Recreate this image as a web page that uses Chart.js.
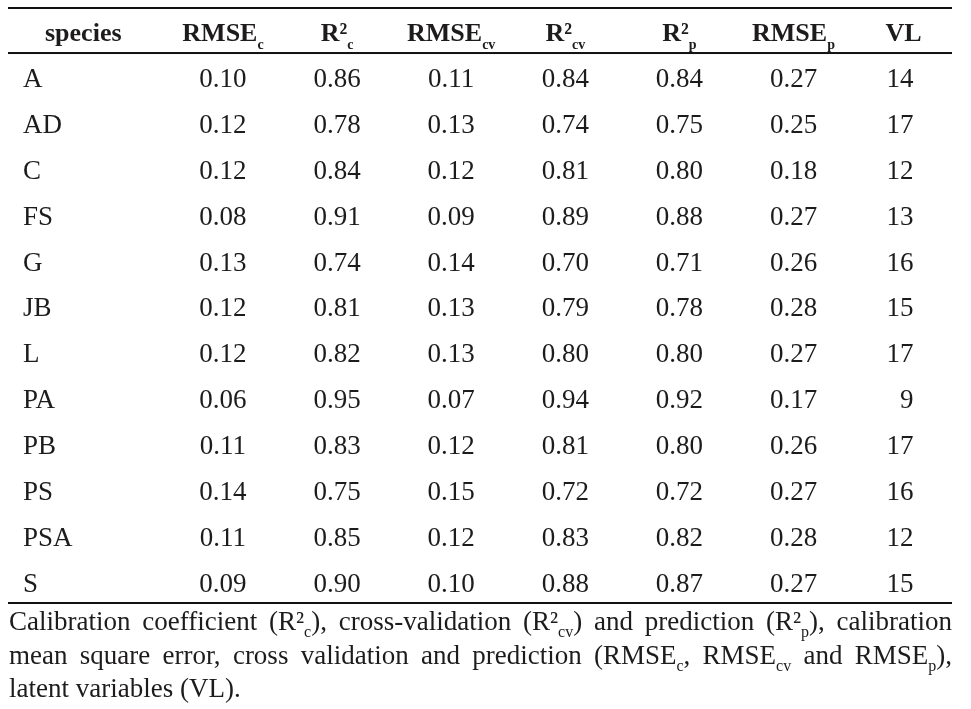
<!DOCTYPE html>
<html>
<head>
<meta charset="utf-8">
<script src="https://cdn.jsdelivr.net/npm/chart.js@4/dist/chart.umd.min.js"></script>
<style>
  html, body { margin: 0; padding: 0; background: #fff; }
  canvas { display: block; }
</style>
</head>
<body>
<canvas id="tbl" width="971" height="709"></canvas>
<script>
// Table values, one array per column
const species = ["A", "AD", "C", "FS", "G", "JB", "L", "PA", "PB", "PS", "PSA", "S"];
const rmseC  = [0.10, 0.12, 0.12, 0.08, 0.13, 0.12, 0.12, 0.06, 0.11, 0.14, 0.11, 0.09];
const r2C    = [0.86, 0.78, 0.84, 0.91, 0.74, 0.81, 0.82, 0.95, 0.83, 0.75, 0.85, 0.90];
const rmseCV = [0.11, 0.13, 0.12, 0.09, 0.14, 0.13, 0.13, 0.07, 0.12, 0.15, 0.12, 0.10];
const r2CV   = [0.84, 0.74, 0.81, 0.89, 0.70, 0.79, 0.80, 0.94, 0.81, 0.72, 0.83, 0.88];
const r2P    = [0.84, 0.75, 0.80, 0.88, 0.71, 0.78, 0.80, 0.92, 0.80, 0.72, 0.82, 0.87];
const rmseP  = [0.27, 0.25, 0.18, 0.27, 0.26, 0.28, 0.27, 0.17, 0.26, 0.27, 0.28, 0.27];
const vl     = [14, 17, 12, 13, 16, 15, 17, 9, 17, 16, 12, 15];

// column headers, "_{..}" marks a subscript
const headers = ["RMSE_{c}", "R²_{c}", "RMSE_{cv}", "R²_{cv}", "R²_{p}", "RMSE_{p}", "VL"];
const caption = [
  "Calibration coefficient (R²_{c}), cross-validation (R²_{cv}) and prediction (R²_{p}), calibration",
  "mean square error, cross validation and prediction (RMSE_{c}, RMSE_{cv} and RMSE_{p}),",
  "latent variables (VL)."
];

const columns = [rmseC, r2C, rmseCV, r2CV, r2P, rmseP, vl];
const ink = "#1d1b1c";
const serif = '"Liberation Serif", "Times New Roman", serif';

// split "R²_{cv}" into runs
function runs(str) {
  const out = [];
  const re = /_\{([^}]*)\}/g;
  let last = 0, m;
  while ((m = re.exec(str))) {
    if (m.index > last) out.push({ t: str.slice(last, m.index), sub: false });
    out.push({ t: m[1], sub: true });
    last = re.lastIndex;
  }
  if (last < str.length) out.push({ t: str.slice(last), sub: false });
  return out;
}

function runsWidth(ctx, rs, main, small) {
  let w = 0;
  rs.forEach(r => { ctx.font = r.sub ? small : main; w += ctx.measureText(r.t).width; });
  return w;
}

function drawRuns(ctx, rs, x, base, main, small, drop) {
  rs.forEach(r => {
    ctx.font = r.sub ? small : main;
    ctx.fillText(r.t, x, r.sub ? base + drop : base);
    x += ctx.measureText(r.t).width;
  });
}

const tablePlugin = {
  id: "tableText",
  afterDatasetsDraw(chart) {
    const { ctx, chartArea: a, scales: { x, y } } = chart;
    ctx.save();
    ctx.fillStyle = ink;
    ctx.textBaseline = "alphabetic";
    ctx.textAlign = "left";

    // rules
    ctx.fillStyle = "#111";
    ctx.fillRect(a.left, a.top - 1, a.right - a.left, 2);
    ctx.fillRect(a.left, y.getPixelForValue(-0.74) - 1, a.right - a.left, 2);
    ctx.fillRect(a.left, a.bottom - 1, a.right - a.left, 2);
    ctx.fillStyle = ink;

    // header row
    const hMain = "bold 26px " + serif, hSmall = "bold 14px " + serif;
    const hy = y.getPixelForValue(-1);
    ctx.font = hMain;
    ctx.fillText("species", a.left + 37, hy);
    headers.forEach((h, i) => {
      const rs = runs(h);
      const w = runsWidth(ctx, rs, hMain, hSmall);
      let cx = x.getPixelForValue(i + 1);
      if (i === headers.length - 1) cx -= 4;
      drawRuns(ctx, rs, cx - w / 2, hy, hMain, hSmall, 8);
    });

    // body cells sit on the dataset points
    ctx.font = "27px " + serif;
    species.forEach((s, r) => ctx.fillText(s, a.left + 15, y.getPixelForValue(r)));
    chart.data.datasets.forEach((ds, di) => {
      const meta = chart.getDatasetMeta(di);
      meta.data.forEach((pt, r) => {
        const v = ds.data[r].v;
        if (di === columns.length - 1) {
          ctx.textAlign = "right";
          ctx.fillText(String(v), pt.x + 6, pt.y);
        } else {
          ctx.textAlign = "center";
          ctx.fillText(v.toFixed(2), pt.x, pt.y);
        }
      });
    });

    // caption, first two lines justified
    ctx.textAlign = "left";
    const cMain = "27px " + serif, cSmall = "16px " + serif;
    const left = a.left + 1, right = a.right;
    caption.forEach((line, li) => {
      const base = a.bottom + 27 + li * 33.5;
      const words = line.split(" ").map(runs);
      const widths = words.map(w => runsWidth(ctx, w, cMain, cSmall));
      ctx.font = cMain;
      let gap = ctx.measureText(" ").width;
      if (li < caption.length - 1) {
        const sum = widths.reduce((p, c) => p + c, 0);
        gap = (right - left - sum) / (words.length - 1);
      }
      let cx = left;
      words.forEach((w, i) => {
        drawRuns(ctx, w, cx, base, cMain, cSmall, 7);
        cx += widths[i] + gap;
      });
    });
    ctx.restore();
  }
};

const datasets = columns.map((col, ci) => ({
  label: headers[ci],
  data: col.map((v, r) => ({ x: ci + 1, y: r, v: v })),
  pointRadius: 0,
  pointHoverRadius: 0,
  showLine: false
}));

new Chart(document.getElementById("tbl"), {
  type: "scatter",
  data: { datasets: datasets },
  options: {
    responsive: false,
    animation: false,
    devicePixelRatio: 1,
    events: [],
    layout: { padding: { left: 8, right: 19, top: 8, bottom: 106 } },
    plugins: { legend: { display: false }, tooltip: { enabled: false } },
    scales: {
      x: { type: "linear", display: false, min: -0.884, max: 7.389 },
      y: { type: "linear", display: false, reverse: true, min: -1.721, max: 11.242 }
    }
  },
  plugins: [tablePlugin]
});
</script>
</body>
</html>
